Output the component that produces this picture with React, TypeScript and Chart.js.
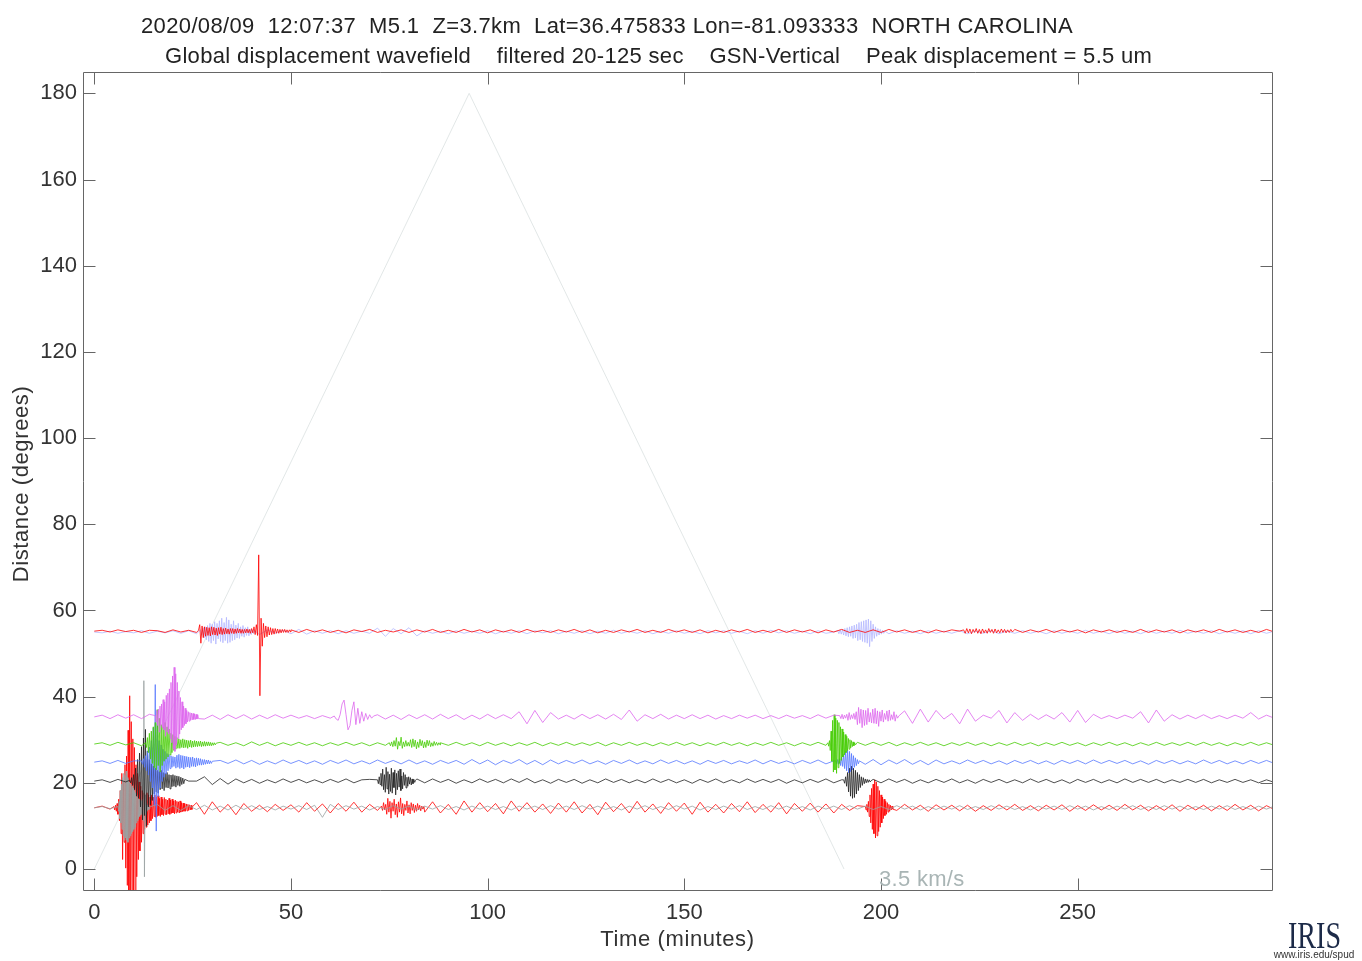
import React, { useEffect, useRef } from "react";
import { Chart, registerables } from "chart.js";

Chart.register(...registerables);

// ---------- axes ----------
const X_MIN = -2.87;
const X_MAX = 299.4;
const Y_MIN = -4.87;
const Y_MAX = 184.95;
const X_TICKS = [0, 50, 100, 150, 200, 250];
const Y_TICKS = [0, 20, 40, 60, 80, 100, 120, 140, 160, 180];

const TITLE_LINE_1 = "2020/08/09  12:07:37  M5.1  Z=3.7km  Lat=36.475833 Lon=-81.093333  NORTH CAROLINA";
const TITLE_LINE_2 = "Global displacement wavefield    filtered 20-125 sec    GSN-Vertical    Peak displacement = 5.5 um";
const X_TITLE = "Time (minutes)";
const Y_TITLE = "Distance (degrees)";
const VELOCITY_LABEL = "3.5 km/s";

// 3.5 km/s travel-time line (minutes, degrees)
const TRAVEL_TIME_X = [0, 95.3, 190.6];
const TRAVEL_TIME_DEG = [0, 180, 0];

// ---------- traces ----------
// quiet samples every 2 minutes from t = 0 (offsets in degrees from the station distance)
const QUIET_STEP = 2;

const RED55_DIST = 55.2;
const RED55_QUIET = [
  0, 0.2, -0.2, 0.3, -0.1, 0.2, -0.3, 0.2, 0.1, -0.3,
  0.3, -0.2, 0.2, -0.3, 0, 0, 0, 0, 0, 0,
  0, 0, 0, 0, 0, 0.3, -0.3, 0.4, -0.2, 0.3,
  -0.3, 0.2, -0.4, 0.3, -0.1, 0.4, -0.3, 0.2, -0.2, 0.3,
  -0.3, 0.3, -0.2, 0.4, -0.3, 0.2, -0.3, 0.4, -0.2, 0.3,
  -0.4, 0.3, -0.2, 0.3, -0.3, 0.4, -0.2, 0.2, -0.3, 0.3,
  -0.2, 0.4, -0.3, 0.3, -0.4, 0.2, -0.3, 0.3, -0.2, 0.4,
  -0.3, 0.2, -0.3, 0.4, -0.2, 0.3, -0.3, 0.3, -0.4, 0.2,
  -0.3, 0.3, -0.2, 0.4, -0.3, 0.2, -0.3, 0.4, -0.3, 0.3,
  -0.2, 0.3, -0.4, 0.3, -0.2, 0.4, -0.3, 0.2, -0.3, 0.3,
  -0.3, 0.4, -0.2, 0.3, -0.3, 0.2, -0.4, 0.3, -0.2, 0.3,
  0, 0, 0, 0, 0, 0, 0, 0.4, -0.3, 0.3,
  -0.2, 0.4, -0.3, 0.3, -0.2, 0.3, -0.4, 0.3, -0.2, 0.3,
  -0.3, 0.2, -0.3, 0.4, -0.3, 0.3, -0.2, 0.3, -0.4, 0.3,
  -0.2, 0.3, -0.3, 0.4, -0.2, 0.3, -0.3, 0.2, -0.3, 0.4,
  -0.2,
];
const RED55_BURST_A = {
  start: 26.5, step: 0.3,
  values: [
    0.2, 1.5, -2.8, 1.2, -1.5, 1.0, -1.2, 0.9, -1.0, 0.8,
    -1.1, 1.0, -0.8, 0.9, -0.9, 0.7, -1.0, 0.8, -0.7, 0.9,
    -0.8, 0.6, -0.7, 0.7, -0.6, 0.5, -0.7, 0.6, -0.5, 0.6,
    -0.6, 0.5, -0.5, 0.6, -0.4, 0.5, -0.5, 0.4, -0.5, 0.4,
    -0.4, 0.5, -0.4, 0.4, -0.5, 0.6, -0.4, 1.0, -0.8, 1.5,
    -1.0, 17.7, -15.0, 3.0, -3.5, 1.8, -1.5, 1.2, -1.3, 1.0,
    -0.9, 0.8, -0.8, 0.6, -0.7, 0.6, -0.5, 0.5, -0.5, 0.4,
    -0.4, 0.4, -0.3, 0.4, -0.3, 0.3, -0.3, 0.3, -0.2,
  ],
};
const RED55_BURST_B = {
  start: 221, step: 0.4,
  values: [
    0.3, -0.5, 0.6, -0.4, 0.5, -0.6, 0.4, -0.3, 0.6, -0.5,
    0.4, -0.6, 0.5, -0.4, 0.3, -0.5, 0.6, -0.3, 0.4, -0.5,
    0.5, -0.4, 0.3, -0.4, 0.5, -0.3, 0.4, -0.4, 0.3, -0.3,
    0.4, -0.2, 0.2,
  ],
};

const LAV55_DIST = 55.0;
const LAV55_QUIET = [
  0, -0.2, 0.2, -0.3, 0.1, -0.2, 0.3, -0.3, 0.2, -0.2,
  0.3, -0.3, 0.3, -0.4, 0, 0, 0, 0, 0, 0,
  0, -0.6, 0.5, -0.3, 0.4, -0.4, 0.6, -0.5, 0.3, -0.3,
  0.3, -0.4, 0.3, -0.3, 0.2, -0.3, 0.9, -1.0, 0.8, -0.4,
  1.0, -0.9, 0.3, -0.3, 0.2, -0.4, 0.3, -0.3, 0.2, -0.3,
  0.3, -0.4, 0.2, -0.3, 0.3, -0.4, 0.3, -0.2, 0.3, -0.4,
  0.2, -0.3, 0.3, -0.4, 0.2, -0.3, 0.4, -0.3, 0.2, -0.3,
  0.3, -0.4, 0.2, -0.3, 0.3, -0.3, 0.2, -0.4, 0.3, -0.2,
  0.3, -0.3, 0.2, -0.4, 0.3, -0.3, 0.4, -0.2, 0.3, -0.3,
  0.2, -0.4, 0.3, -0.3, 0, 0, 0, 0, 0, 0,
  0, -0.4, 0.3, -0.3, 0.2, -0.4, 0.3, -0.3, 0.2, -0.3,
  0.3, -0.4, 0.2, -0.3, 0.3, -0.4, 0.2, -0.3, 0.3, -0.3,
  0.2, -0.4, 0.3, -0.3, 0.2, -0.3, 0.4, -0.3, 0.2, -0.4,
  0.3, -0.3, 0.2, -0.4, 0.3, -0.3, 0.2, -0.3, 0.4, -0.3,
  0.2, -0.3, 0.3, -0.4, 0.2, -0.3, 0.3, -0.4, 0.3, -0.3,
  0.2,
];
const LAV55_BURST_A = {
  start: 27, step: 0.3,
  values: [
    0.5, -0.8, 1.0, -1.4, 1.2, -1.8, 1.5, -2.2, 2.0, -2.6,
    1.8, -2.0, 2.4, -2.8, 2.0, -1.6, 2.6, -2.2, 3.2, -2.5,
    2.2, -2.0, 3.4, -2.6, 2.8, -2.4, 1.8, -2.0, 2.6, -1.8,
    1.6, -1.4, 2.0, -1.5, 1.2, -1.0, 1.5, -1.2, 1.0, -0.8,
    1.2, -0.9, 0.7, -0.6, 0.5, -0.4, 0.3,
  ],
};
const LAV55_BURST_B = {
  start: 189, step: 0.3,
  values: [
    0.3, -0.4, 0.5, -0.5, 0.6, -0.7, 0.8, -0.9, 1.0, -1.1,
    1.2, -1.0, 1.4, -1.5, 1.6, -1.4, 1.8, -2.0, 2.2, -1.8,
    2.4, -2.2, 2.6, -2.4, 2.8, -2.6, 3.0, -3.4, 2.6, -2.2,
    1.8, -1.5, 1.2, -1.0, 0.8, -0.7, 0.6, -0.5, 0.4, -0.3,
    0.2,
  ],
};

const MAG35_DIST = 35.3;
const MAG35_QUIET = [
  0, 0.4, -0.4, 0.5, -0.3, 0.5, -0.4, 0.6, 0, 0,
  0, 0, 0, 0.6, -0.5, 0.4, -0.6, 0.5, -0.4, 0.5,
  -0.5, 0.4, -0.4, 0.5, -0.3, 0.4, -0.3, 0.3, -0.4, 0.3,
  -0.3, 0, 0, 0, 0, 0, 0.5, -0.5, 0.4, -0.6,
  0.5, -0.4, 0.5, -0.5, 0.6, -0.4, 0.5, -0.6, 0.4, -0.5,
  0.6, -0.4, 0.5, -0.4, 1.2, -1.6, 1.5, -1.3, 1.0, -0.5,
  0.4, -0.5, 0.6, -0.4, 0.5, -0.5, 0.6, -0.6, 1.6, -1.0,
  0.5, -0.4, 0.6, -0.5, 0.4, -0.4, 0.5, -0.4, 0.4, -0.5,
  0.3, -0.4, 0.4, -0.3, 0.4, -0.4, 0.3, -0.4, 0.4, -0.3,
  0.3, -0.4, 0.5, -0.3, 0.4, 0, 0, 0, 0, 0,
  0, 0, 0, 1.4, -1.5, 1.8, -1.2, 1.5, -0.5, 0.8,
  -1.6, 1.8, -1.0, 0.4, -0.3, 1.5, -1.4, 1.0, -0.8, 0.6,
  -0.6, 0.5, -0.5, 1.0, -1.2, 1.5, -1.3, 0.6, -0.4, 0.3,
  -0.4, 0.4, -0.3, 1.2, -1.4, 1.6, -1.0, 0.5, -0.5, 0.4,
  -0.4, 0.5, -0.4, 0.3, -0.4, 0.4, -0.3, 1.0, -0.5, 0.4,
  -0.3,
];
const MAG35_BURST_A = {
  start: 15.5, step: 0.2,
  values: [
    0.3, -1.2, 1.5, -2.0, 1.8, -3.5, 2.5, -2.0, 3.0, -2.5,
    4.0, -3.0, 3.5, -4.5, 5.0, -3.5, 5.5, -4.0, 6.5, -5.0,
    8.0, -6.0, 9.5, -7.5, 11.5, -8.0, 10.0, -6.5, 8.0, -5.0,
    6.0, -4.0, 4.5, -3.0, 3.5, -2.5, 2.5, -2.0, 2.0, -1.6,
    1.5, -1.2, 1.2, -1.0, 1.0, -0.8, 0.9, -0.7, 0.8, -0.6,
    0.7, -0.6, 0.6, -0.5, 0.5, -0.4,
  ],
};
const MAG35_BURST_C = {
  start: 61, step: 0.5,
  values: [
    0.2, -0.5, -0.8, 0.5, 3.0, 3.9, 0.5, -3.0, -2.0, 1.5,
    3.5, -1.8, 2.0, -1.5, 1.2, -1.0, 0.8, -0.6, 0.5, -0.3,
    0.2,
  ],
};
const MAG35_BURST_D = {
  start: 189.5, step: 0.3,
  values: [
    0.3, -0.4, 0.6, -0.5, 0.4, -0.3, 0.6, -0.8, 1.0, -0.6,
    0.5, -0.4, 0.8, -0.6, 1.2, -1.8, 2.2, -1.5, 1.8, -2.5,
    1.6, -2.0, 1.5, -1.8, 2.0, -1.2, 1.0, -1.4, 1.8, -1.5,
    2.0, -1.6, 1.4, -2.2, 1.2, -1.0, 1.6, -1.2, 0.8, -0.6,
    1.4, -1.0, 1.6, -0.8, 0.5, -0.6, 1.2, -1.0, 0.5, -0.3,
    0.2,
  ],
};

const GRN29_DIST = 29.0;
const GRN29_QUIET = [
  0, 0.3, -0.3, 0.4, -0.2, 0.3, -0.4, 0, 0, 0,
  0, 0, 0, 0, 0, 0, 0.4, -0.3, 0.3, -0.4,
  0.5, -0.3, 0.4, -0.4, 0.3, -0.3, 0.4, -0.3, 0.3, -0.4,
  0.3, -0.3, 0.4, -0.3, 0.3, -0.4, 0.3, -0.3, 0, 0,
  0, 0, 0, 0, 0.3, -0.3, 0.4, -0.3, 0.3, -0.4,
  0.4, -0.3, 0.3, -0.4, 0.3, -0.3, 0.4, -0.4, 0.3, -0.3,
  0.4, -0.3, 0.3, -0.3, 0.4, -0.4, 0.3, -0.3, 0.4, -0.3,
  0.3, -0.4, 0.3, -0.3, 0.4, -0.3, 0.3, -0.4, 0.3, -0.3,
  0.4, -0.3, 0.3, -0.4, 0.3, -0.3, 0.4, -0.3, 0.3, -0.4,
  0.3, -0.3, 0.4, -0.3, 0, 0, 0, 0.4, -0.3, 0.4,
  -0.3, 0.4, -0.4, 0.3, -0.3, 0.4, -0.3, 0.3, -0.4, 0.3,
  -0.3, 0.4, -0.3, 0.3, -0.4, 0.3, -0.3, 0.4, -0.3, 0.3,
  -0.4, 0.3, -0.3, 0.4, -0.3, 0.3, -0.4, 0.3, -0.3, 0.4,
  -0.3, 0.3, -0.4, 0.3, -0.3, 0.4, -0.3, 0.3, -0.3, 0.4,
  -0.3, 0.4, -0.3, 0.3, -0.4, 0.3, -0.3, 0.4, -0.3, 0.3,
  -0.3,
];
const GRN29_BURST_A = {
  start: 13, step: 0.25,
  values: [
    0.3, -0.8, 1.5, -2.0, 2.5, -3.5, 3.0, -4.5, 4.0, -5.5,
    5.0, -6.0, 8.0, -5.0, 6.0, -6.5, 4.5, -5.0, 4.0, -4.0,
    5.0, -3.5, 4.0, -3.0, 3.5, -2.5, 2.5, -2.0, 2.2, -1.5,
    1.8, -1.2, 1.5, -1.0, 1.2, -1.0, 1.0, -0.8, 1.2, -0.9,
    1.0, -0.8, 0.9, -1.0, 0.8, -0.7, 0.9, -0.8, 0.7, -0.7,
    0.8, -0.6, 0.7, -0.6, 0.6, -0.5, 0.7, -0.6, 0.5, -0.5,
    0.6, -0.5, 0.5, -0.4, 0.5, -0.4, 0.4, -0.4, 0.3, -0.3,
    0.3, -0.2, 0.2,
  ],
};
const GRN29_BURST_C = {
  start: 75, step: 0.3,
  values: [
    0.3, -0.4, 0.5, -0.6, 0.8, -0.5, 1.5, -1.2, 0.6, -0.4,
    1.6, -1.0, 0.5, -0.6, 0.8, -0.5, 0.4, -0.5, 1.0, -0.8,
    1.2, -0.6, 0.9, -1.1, 0.5, -0.8, 1.1, -0.4, 0.8, -0.9,
    0.5, -0.8, 0.9, -0.4, 0.8, -0.6, 0.3, -0.5, 0.6, -0.3,
    0.4, -0.3, 0.3, -0.2,
  ],
};
const GRN29_BURST_D = {
  start: 186.5, step: 0.2,
  values: [
    0.3, -0.5, 0.8, -1.5, 3.0, -4.0, 5.5, -6.5, 6.8, -6.0,
    6.0, -6.8, 5.5, -5.5, 5.0, -4.5, 4.0, -3.8, 3.5, -3.0,
    2.8, -2.5, 2.2, -2.0, 1.8, -1.5, 1.3, -1.2, 1.0, -0.9,
    0.8, -0.6, 0.5, -0.4, 0.3, -0.2,
  ],
};

const BLU25_DIST = 24.8;
const BLU25_QUIET = [
  0, 0.3, -0.3, 0.4, -0.3, 0.3, 0, 0, 0, 0,
  0, 0, 0, 0, 0, 0, 0.4, -0.3, 0.5, -0.4,
  0.4, -0.5, 0.3, -0.4, 0.5, -0.3, 0.4, -0.4, 0.3, -0.5,
  0.4, -0.3, 0.5, -0.4, 0.3, -0.4, 0.5, -0.3, 0.4, -0.4,
  0.5, -0.4, 0.3, -0.5, 0.4, -0.3, 0.4, -0.5, 0.6, -0.4,
  0.5, -0.6, 0.4, -0.3, 0.6, -0.5, 0.4, -0.6, 0.5, -0.4,
  0.4, -0.3, 0.5, -0.4, 0.3, -0.5, 0.4, -0.3, 0.5, -0.4,
  0.3, -0.4, 0.5, -0.3, 0.4, -0.4, 0.3, -0.5, 0.4, -0.3,
  0.4, -0.4, 0.3, -0.3, 0.5, -0.4, 0.4, -0.3, 0.3, -0.4,
  0.4, -0.3, 0.5, -0.4, 0.3, 0, 0, 0, -0.5, 0.6,
  -0.6, 0.5, -0.4, 0.6, -0.5, 0.4, -0.6, 0.5, -0.4, 0.3,
  -0.4, 0.5, -0.3, 0.4, -0.4, 0.3, -0.5, 0.4, -0.3, 0.4,
  -0.4, 0.3, -0.5, 0.4, -0.3, 0.4, -0.4, 0.5, -0.3, 0.4,
  -0.3, 0.4, -0.4, 0.3, -0.5, 0.4, -0.3, 0.4, -0.4, 0.3,
  -0.4, 0.5, -0.3, 0.4, -0.4, 0.3, -0.4, 0.4, -0.3, 0.4,
  -0.3,
];
const BLU25_BURST_A = {
  start: 12, step: 0.25,
  values: [
    0.3, -0.5, 0.8, -1.2, 1.5, -2.0, 2.5, -3.0, 3.5, -4.5,
    5.0, -6.0, 8.0, -10.0, 18.0, -16.0, 9.0, -8.0, 5.0, -6.0,
    4.0, -4.5, 3.0, -3.5, 2.5, -2.8, 2.0, -2.0, 1.8, -1.5,
    1.5, -1.2, 1.3, -1.0, 1.2, -1.4, 1.6, -1.2, 1.8, -1.5,
    1.6, -1.3, 1.5, -1.6, 1.4, -1.2, 1.3, -1.1, 1.2, -1.3,
    1.1, -1.0, 1.2, -1.0, 0.9, -1.1, 1.0, -0.8, 0.9, -0.7,
    0.8, -0.7, 0.6, -0.6, 0.6, -0.5, 0.5, -0.4, 0.5, -0.4,
    0.3, -0.3, 0.2,
  ],
};
const BLU25_BURST_B = {
  start: 188.5, step: 0.25,
  values: [
    0.3, -0.4, 0.6, -0.5, 0.8, -0.8, 1.2, -1.0, 1.8, -1.5,
    2.5, -2.0, 2.8, -2.5, 2.5, -2.2, 2.0, -1.8, 1.5, -1.2,
    1.0, -0.8, 0.6, -0.4, 0.3,
  ],
};

const BLK20_DIST = 20.4;
const BLK20_QUIET = [
  0, 0.3, -0.3, 0.4, -0.2, 0, 0, 0, 0, 0,
  0, 0, 0, 0, 1.0, -0.8, 0.6, -0.7, 0.5, -0.4,
  0.4, -0.5, 0.3, -0.4, 0.5, -0.3, 0.4, -0.4, 0.3, -0.4,
  0.4, -0.3, 0.5, -0.4, 0.3, 0.4, 0, 0, 0, 0,
  0, 0.5, -0.4, 0.5, -0.3, 0.4, -0.5, 0.3, -0.4, 0.5,
  -0.3, 0.4, -0.4, 0.5, -0.3, 0.6, -0.4, 0.3, -0.5, 0.4,
  -0.3, 0.4, -0.5, 0.3, -0.4, 0.5, -0.3, 0.4, -0.4, 0.3,
  -0.4, 0.5, -0.3, 0.4, -0.4, 0.3, -0.5, 0.4, -0.3, 0.5,
  -0.4, 0.3, -0.4, 0.5, -0.3, 0.4, -0.3, 0.4, -0.5, 0.3,
  -0.4, 0.4, -0.3, 0.5, -0.4, 0.3, 0, 0, 0, 0.4,
  -0.4, 0.5, -0.3, 0.4, -0.5, 0.3, -0.4, 0.4, -0.3, 0.5,
  -0.4, 0.3, -0.5, 0.4, -0.3, 0.4, -0.4, 0.3, -0.4, 0.5,
  -0.3, 0.4, -0.4, 0.3, -0.5, 0.4, -0.3, 0.4, -0.4, 0.3,
  -0.4, 0.5, -0.3, 0.4, -0.3, 0.4, -0.4, 0.3, -0.3, 0.4,
  -0.3, 0.4, -0.4, 0.3, -0.3, 0.4, -0.3, 0.3, -0.4, 0.3,
  -0.3,
];
const BLK20_BURST_A = {
  start: 9, step: 0.25,
  values: [
    0.2, -0.4, 0.8, -1.0, 1.5, -2.0, 3.0, -3.5, 5.0, -4.0,
    6.5, -6.0, 8.0, -9.0, 10.0, -8.0, 12.0, -10.5, 7.0, -6.0,
    5.0, -5.5, 4.0, -4.5, 3.5, -3.0, 3.0, -2.5, 2.5, -2.8,
    2.2, -2.0, 2.5, -1.8, 2.0, -2.2, 1.8, -1.5, 2.0, -1.6,
    1.5, -1.8, 1.4, -1.3, 1.5, -1.2, 1.3, -1.4, 1.2, -1.0,
    1.1, -1.2, 0.9, -0.8, 0.7, -0.6, 0.4,
  ],
};
const BLK20_BURST_B = {
  start: 72, step: 0.22,
  values: [
    0.3, -0.6, 1.0, -0.8, 1.8, -1.2, 2.8, -2.0, 1.5, -2.6,
    3.2, -1.8, 2.2, -3.0, 1.6, -2.4, 3.0, -2.8, 2.0, -1.5,
    2.6, -3.2, 1.8, -2.0, 2.4, -1.4, 2.8, -2.2, 1.2, -1.8,
    2.0, -1.0, 1.5, -1.6, 0.9, -1.2, 1.0, -0.7, 0.8, -0.9,
    0.5, -0.6, 0.4, -0.3, 0.2,
  ],
};
const BLK20_BURST_C = {
  start: 190.5, step: 0.25,
  values: [
    0.3, -0.5, 1.0, -1.2, 2.0, -2.5, 3.0, -3.5, 3.5, -4.0,
    3.0, -3.8, 2.5, -3.0, 2.0, -2.2, 1.5, -1.5, 1.0, -1.0,
    0.8, -0.6, 0.5, -0.4, 0.4, -0.3, 0.3, -0.2, 0.1,
  ],
};

const RED14_DIST = 14.2;
const RED14_QUIET = [
  0, 0.4, -0.3, 0, 0, 0, 0, 0, 0, 0,
  0, 0, 0, 1.2, -1.5, 1.4, -1.0, 0.8, -1.6, 1.0,
  -0.8, 0.6, -0.9, 0.8, -0.6, 0.7, -1.0, 1.2, -0.8, 0.9,
  -1.2, 1.0, -0.8, 1.3, -1.0, 0.8, -0.6, 0, 0, 0,
  0, 0, -1.0, 1.4, -1.2, 0.8, -1.5, 1.6, -1.0, 1.2,
  -0.9, 1.0, -1.4, 1.6, -0.8, 1.2, -1.0, 0.9, -1.3, 1.1,
  -1.0, 1.4, -1.2, 0.8, -1.6, 1.3, -0.9, 1.0, -1.2, 1.5,
  -1.0, 0.9, -1.3, 1.2, -0.8, 1.1, -1.5, 1.3, -1.0, 0.8,
  -1.2, 1.0, -0.9, 1.4, -1.1, 0.8, -1.0, 1.2, -1.4, 1.0,
  -0.8, 1.1, -1.0, 0.9, -1.2, 0.8, -0.6, 0.5, 0, 0,
  0, 0, -0.6, 0.8, -0.5, 0.6, -0.8, 0.7, -0.5, 0.6,
  -0.7, 0.6, -0.8, 0.5, -0.6, 0.7, -0.5, 0.8, -0.6, 0.5,
  -0.7, 0.6, -0.5, 0.7, -0.8, 0.5, -0.6, 0.7, -0.5, 0.6,
  -0.6, 0.8, -0.5, 0.6, -0.7, 0.5, -0.6, 0.7, -0.8, 0.6,
  -0.5, 0.6, -0.7, 0.5, -0.6, 0.8, -0.5, 0.6, -0.7, 0.5,
  -0.4,
];
const RED14_BURST_A = {
  start: 5, step: 0.2,
  values: [
    0.3, -0.5, 0.6, -0.8, 1.0, -1.5, 2.0, -3.0, 4.0, -6.0,
    8.0, -12.0, 6.0, -8.0, 10.0, -14.0, 12.0, -18.0, 18.0, -22.0,
    26.0, -25.0, 20.0, -24.0, 16.0, -20.0, 14.0, -22.0, 10.0, -16.0,
    8.0, -12.0, 6.0, -10.0, 5.0, -8.0, 4.0, -6.0, 3.5, -5.0,
    3.0, -4.5, 3.5, -4.0, 3.0, -3.5, 2.5, -3.0, 3.0, -2.5,
    2.5, -2.0, 3.0, -2.2, 2.5, -2.0, 2.8, -1.8, 2.2, -2.0,
    2.5, -1.6, 2.0, -1.8, 2.4, -1.5, 2.0, -1.6, 1.8, -1.4,
    2.2, -1.5, 1.8, -1.3, 2.0, -1.2, 1.6, -1.4, 1.8, -1.2,
    1.5, -1.0, 1.4, -1.2, 1.6, -1.0, 1.2, -0.9, 1.1, -0.8,
    1.0, -0.8, 0.9, -0.7, 0.8, -0.6, 0.7, -0.5, 0.6, -0.4,
    0.3,
  ],
};
const RED14_BURST_B = {
  start: 73, step: 0.27,
  values: [
    0.4, -0.6, 1.2, -0.5, 0.8, -1.5, 2.2, -1.0, 1.5, -2.4,
    1.2, -0.8, 2.0, -1.6, 0.9, -2.2, 1.4, -1.0, 2.3, -1.4,
    1.0, -1.8, 0.8, -0.6, 1.6, -1.2, 0.7, -1.4, 1.2, -0.6,
    0.9, -1.1, 0.6, -0.8, 1.0, -0.5, 0.6, -0.7, 0.4, -0.3,
    0.3,
  ],
};
const RED14_BURST_C = {
  start: 196, step: 0.2,
  values: [
    0.3, -0.5, 0.8, -1.0, 1.5, -2.0, 3.0, -3.5, 4.5, -5.0,
    5.5, -6.0, 6.5, -7.0, 6.0, -6.5, 5.0, -5.5, 4.0, -4.5,
    3.0, -3.5, 2.5, -2.5, 2.0, -1.8, 1.5, -1.5, 1.2, -1.0,
    0.8, -0.8, 0.6, -0.5, 0.4, -0.3,
  ],
};

const GRY14_DIST = 14.2;
const GRY14_QUIET = [
  0, 0.3, -0.2, 0, 0, 0, 0, 0, 0.8, -0.6,
  0.5, -0.6, 0.5, -0.4, 0.6, -0.5, 0.4, -0.5, 0.6, -0.4,
  0.5, -0.4, 0.3, -0.5, 0.4, -0.3, 0.5, -0.4, 0.6, -2.2,
  0.8, -0.4, 0.5, -0.3, 0.4, -0.5, 0.3, -0.4, 0.5, -0.3,
  0.4, -0.5, 0.4, -0.3, 0.5, -0.4, 0.3, -0.5, 0.4, -0.3,
  0.4, -0.4, 0.3, -0.5, 0.4, -0.3, 0.4, -0.4, 0.5, -0.3,
  0.4, -0.4, 0.5, -0.3, 0.4, -0.4, 0.3, -0.5, 0.4, -0.3,
  0.5, -0.4, 0.3, -0.4, 0.5, -0.3, 0.4, -0.5, 0.3, -0.4,
  0.4, -0.3, 0.5, -0.4, 0.3, -0.4, 0.5, -0.3, 0.4, -0.4,
  0.3, -0.5, 0.4, -0.3, 0.4, -0.4, 0.5, -0.3, 0.4, -0.4,
  0.3, -0.4, 0.5, -0.3, 0.4, -0.5, 0.3, -0.4, 0.4, -0.3,
  0.5, -0.4, 0.3, -0.4, 0.5, -0.3, 0.4, -0.4, 0.3, -0.5,
  0.4, -0.3, 0.4, -0.4, 0.5, -0.3, 0.4, -0.5, 0.3, -0.4,
  0.4, -0.3, 0.5, -0.4, 0.3, -0.4, 0.5, -0.3, 0.4, -0.4,
  0.3, -0.4, 0.4, -0.3, 0.5, -0.4, 0.3, -0.4, 0.4, -0.3,
  0.4,
];
const GRY14_BURST_A = {
  start: 6, step: 0.15,
  values: [
    0.3, -0.8, 1.5, -2.5, 4.0, -3.5, 5.5, -5.0, 7.0, -6.5,
    8.0, -7.5, 7.5, -7.0, 8.5, -7.5, 7.0, -8.0, 6.5, -7.0,
    6.0, -6.5, 5.5, -6.0, 5.0, -5.5, 4.5, -5.0, 4.0, -4.5,
    3.5, -3.5, 3.0, -3.0, 2.5, -2.5, 2.0, -2.0, 1.8, -1.6,
    1.5, -1.4, 2.0, -3.0, 29.5, -16.0, 3.0, -1.5, 1.0, -0.8,
    0.6, -0.5, 0.4, -0.3, 0.2,
  ],
};

type Burst = { start: number; step: number; values: number[] };
type Pt = { x: number; y: number };

function buildTrace(dist: number, quiet: number[], bursts: Burst[]): Pt[] {
  const spans = bursts.map((b) => [b.start, b.start + b.step * (b.values.length - 1)]);
  const pts: Pt[] = [];
  quiet.forEach((v, i) => {
    const t = i * QUIET_STEP;
    if (spans.some(([s, e]) => t >= s - 1e-6 && t <= e + 1e-6)) return;
    pts.push({ x: t, y: dist + v });
  });
  bursts.forEach((b) =>
    b.values.forEach((v, i) => pts.push({ x: b.start + i * b.step, y: dist + v }))
  );
  pts.sort((p, q) => p.x - q.x);
  return pts;
}

const FONT = "'Liberation Sans', Arial, Helvetica, sans-serif";

const decorPlugin = {
  id: "decor",
  afterDatasetsDraw(chart: any) {
    const { ctx, chartArea: a, scales } = chart;
    const L = Math.round(a.left) + 0.5;
    const R = Math.round(a.right) + 0.5;
    const T = Math.round(a.top) + 0.5;
    const B = Math.round(a.bottom) + 0.5;
    ctx.save();
    ctx.strokeStyle = "#666666";
    ctx.lineWidth = 1;
    ctx.beginPath();
    ctx.rect(L, T, R - L, B - T);
    const tl = 12;
    X_TICKS.forEach((v) => {
      const px = Math.round(scales.x.getPixelForValue(v)) + 0.5;
      ctx.moveTo(px, B);
      ctx.lineTo(px, B - tl);
      ctx.moveTo(px, T);
      ctx.lineTo(px, T + tl);
    });
    Y_TICKS.forEach((v) => {
      const py = Math.round(scales.y.getPixelForValue(v)) + 0.5;
      ctx.moveTo(L, py);
      ctx.lineTo(L + tl, py);
      ctx.moveTo(R, py);
      ctx.lineTo(R - tl, py);
    });
    ctx.stroke();

    const setSpacing = (s: string) => {
      try { (ctx as any).letterSpacing = s; } catch (e) { /* ignore */ }
    };

    // velocity label
    ctx.fillStyle = "#a9b5b5";
    ctx.font = `22px ${FONT}`;
    ctx.textAlign = "left";
    ctx.textBaseline = "middle";
    setSpacing("0.3px");
    ctx.fillText(VELOCITY_LABEL, 879, 880);

    // title
    ctx.fillStyle = "#222222";
    setSpacing("0.36px");
    ctx.fillText(TITLE_LINE_1, 141, 27);
    setSpacing("0.31px");
    ctx.fillText(TITLE_LINE_2, 165, 57);

    // axis titles
    ctx.fillStyle = "#333333";
    ctx.textAlign = "center";
    setSpacing("0.6px");
    ctx.fillText(X_TITLE, (a.left + a.right) / 2, 940);
    ctx.save();
    ctx.translate(22, 484);
    ctx.rotate(-Math.PI / 2);
    ctx.fillText(Y_TITLE, 0, 0);
    ctx.restore();
    setSpacing("0px");

    // IRIS logo text
    ctx.fillStyle = "#1c2a48";
    ctx.font = `38px 'Liberation Serif', 'Times New Roman', serif`;
    ctx.textAlign = "left";
    ctx.textBaseline = "alphabetic";
    const w = ctx.measureText("IRIS").width;
    ctx.save();
    ctx.translate(1288, 948);
    ctx.scale(53 / w, 1);
    ctx.fillText("IRIS", 0, 0);
    ctx.restore();
    ctx.fillStyle = "#333333";
    ctx.font = `10px ${FONT}`;
    ctx.textAlign = "center";
    ctx.fillText("www.iris.edu/spud", 1314, 958);
    ctx.restore();
  },
};

export default function App() {
  const canvasRef = useRef<HTMLCanvasElement | null>(null);

  useEffect(() => {
    const canvas = canvasRef.current;
    if (!canvas) return;

    const traces = [
      { label: "red 55", color: "#ff0000", data: buildTrace(RED55_DIST, RED55_QUIET, [RED55_BURST_A, RED55_BURST_B]) },
      { label: "lavender 55", color: "#b4b8ff", data: buildTrace(LAV55_DIST, LAV55_QUIET, [LAV55_BURST_A, LAV55_BURST_B]) },
      { label: "magenta 35", color: "#dd66ee", data: buildTrace(MAG35_DIST, MAG35_QUIET, [MAG35_BURST_A, MAG35_BURST_C, MAG35_BURST_D]) },
      { label: "green 29", color: "#44cc00", data: buildTrace(GRN29_DIST, GRN29_QUIET, [GRN29_BURST_A, GRN29_BURST_C, GRN29_BURST_D]) },
      { label: "blue 25", color: "#5577ff", data: buildTrace(BLU25_DIST, BLU25_QUIET, [BLU25_BURST_A, BLU25_BURST_B]) },
      { label: "black 20", color: "#222222", data: buildTrace(BLK20_DIST, BLK20_QUIET, [BLK20_BURST_A, BLK20_BURST_B, BLK20_BURST_C]) },
      { label: "gray 14", color: "#9aa2a2", data: buildTrace(GRY14_DIST, GRY14_QUIET, [GRY14_BURST_A]) },
      { label: "red 14", color: "#ff0000", data: buildTrace(RED14_DIST, RED14_QUIET, [RED14_BURST_A, RED14_BURST_B, RED14_BURST_C]) },
    ];

    const datasets: any[] = traces.map((t) => ({
      label: t.label,
      data: t.data,
      borderColor: t.color,
      borderWidth: 0.8,
      pointRadius: 0,
      tension: 0,
      fill: false,
    }));
    datasets.push({
      label: "3.5 km/s",
      data: TRAVEL_TIME_X.map((x, i) => ({ x, y: TRAVEL_TIME_DEG[i] })),
      borderColor: "#d6dcdc",
      borderWidth: 0.7,
      pointRadius: 0,
      tension: 0,
      fill: false,
    });

    const tickFont = { family: FONT, size: 22 };

    const chart = new Chart(canvas, {
      type: "line",
      data: { datasets },
      options: {
        animation: false,
        responsive: false,
        devicePixelRatio: 1,
        events: [],
        layout: { padding: { top: 72, right: 90, left: 0, bottom: 0 } },
        plugins: { legend: { display: false }, tooltip: { enabled: false }, title: { display: false } },
        scales: {
          x: {
            type: "linear",
            min: X_MIN,
            max: X_MAX,
            grid: { display: false, drawTicks: false },
            border: { display: false },
            afterBuildTicks: (s: any) => { s.ticks = X_TICKS.map((v) => ({ value: v })); },
            afterFit: (s: any) => { s.height = 71; },
            ticks: { font: tickFont, color: "#333333", padding: 10, maxRotation: 0, autoSkip: false },
          },
          y: {
            type: "linear",
            min: Y_MIN,
            max: Y_MAX,
            grid: { display: false, drawTicks: false },
            border: { display: false },
            afterBuildTicks: (s: any) => { s.ticks = Y_TICKS.map((v) => ({ value: v })); },
            afterFit: (s: any) => { s.width = 83; },
            ticks: { font: tickFont, color: "#333333", padding: 6, autoSkip: false },
          },
        },
      } as any,
      plugins: [decorPlugin],
    });

    return () => chart.destroy();
  }, []);

  return (
    <div style={{ position: "absolute", left: 0, top: 0, width: 1362, height: 961, background: "#ffffff" }}>
      <canvas ref={canvasRef} width={1362} height={961} style={{ display: "block", width: 1362, height: 961 }} />
    </div>
  );
}
